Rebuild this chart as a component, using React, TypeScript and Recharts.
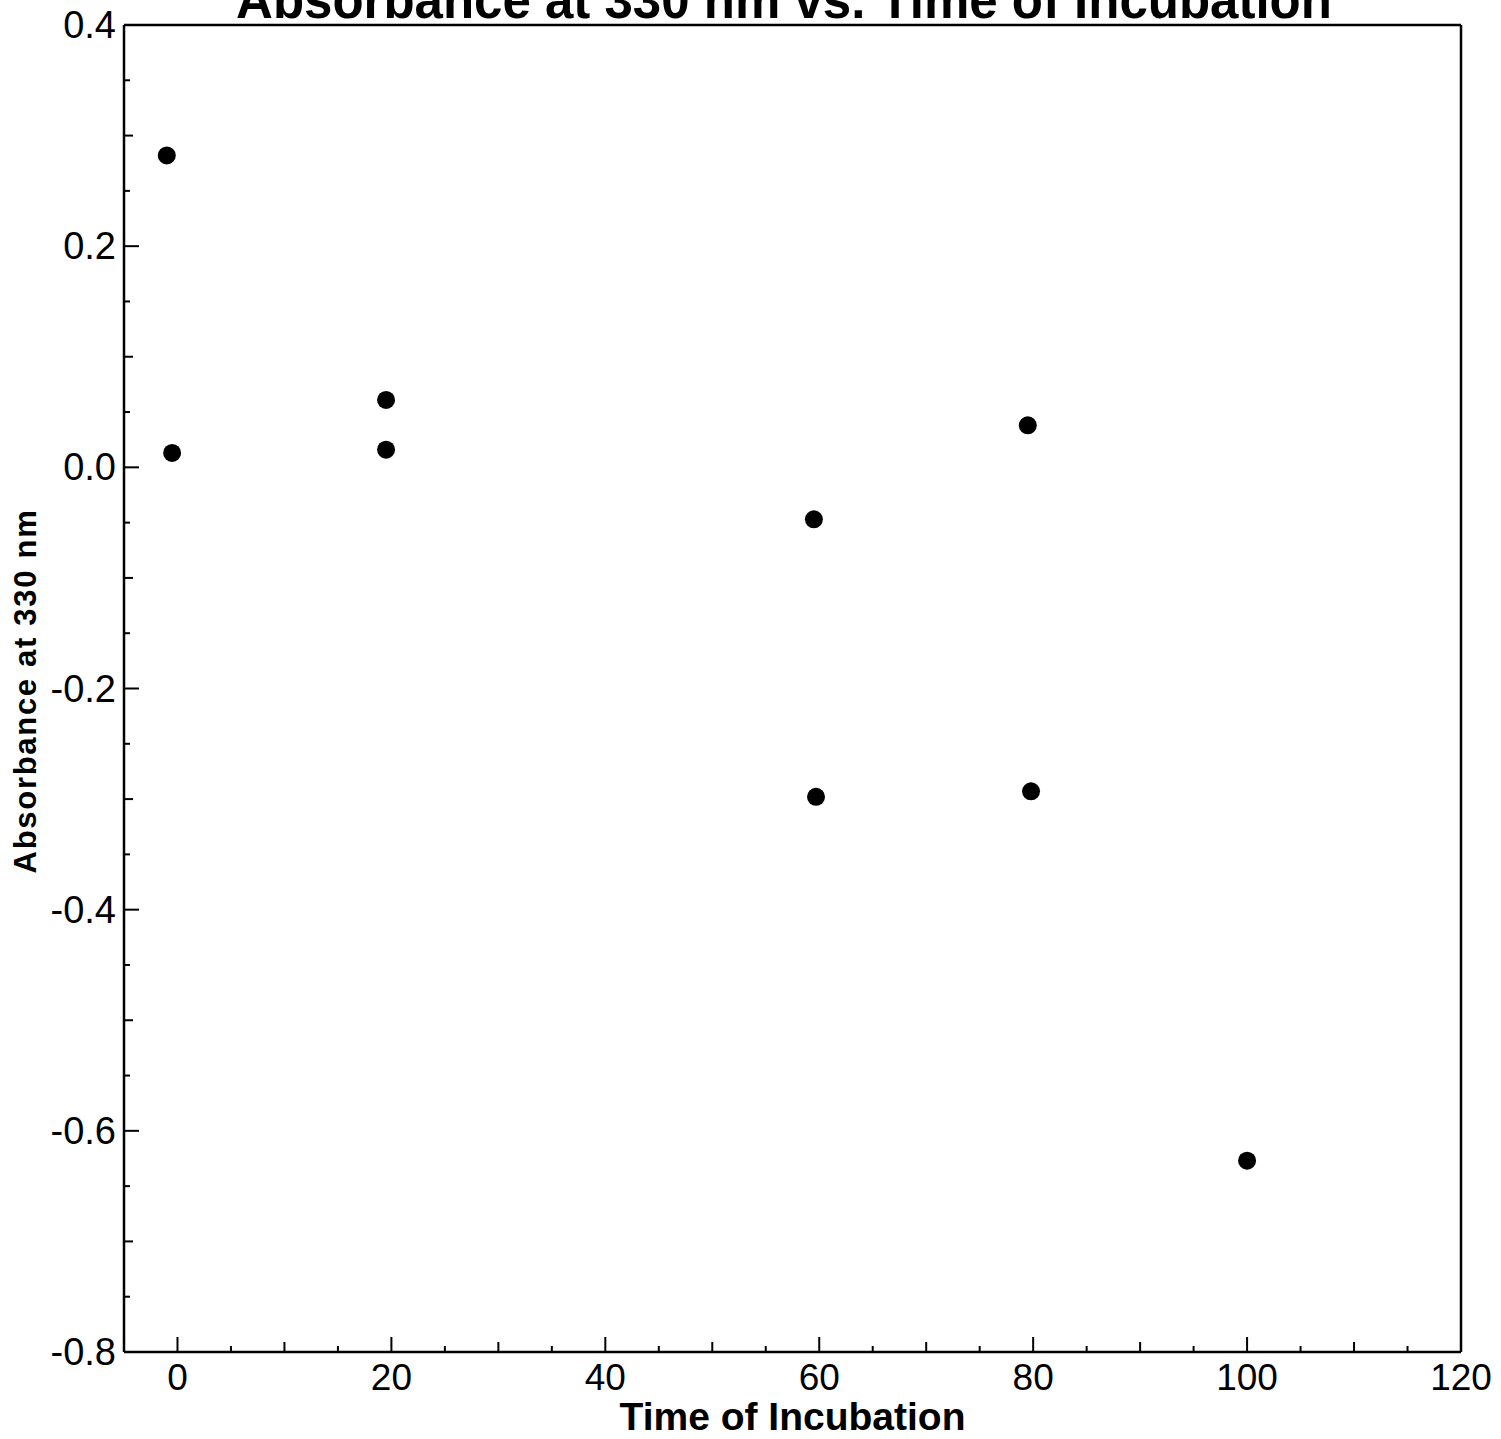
import * as React from "react"
import { Label, ReferenceLine, Scatter, ScatterChart, XAxis, YAxis } from "recharts"

// measured points (time of incubation, absorbance at 330 nm)
const times = [-1, -0.5, 19.5, 19.5, 59.5, 59.7, 79.5, 79.8, 100]
const absorbance = [0.282, 0.013, 0.061, 0.016, -0.047, -0.298, 0.038, -0.293, -0.627]

const xTicks = [0, 5, 10, 15, 20, 25, 30, 35, 40, 45, 50, 55, 60, 65, 70, 75, 80, 85, 90, 95, 100, 105, 110, 115, 120]
const yTicks = [
	-0.8, -0.75, -0.7, -0.65, -0.6, -0.55, -0.5, -0.45, -0.4, -0.35, -0.3, -0.25, -0.2, -0.15, -0.1, -0.05, 0, 0.05, 0.1,
	0.15, 0.2, 0.25, 0.3, 0.35, 0.4,
]

const data = times.map((t, i) => ({ t, a: absorbance[i] }))

const FONT = "'Liberation Sans', Arial, Helvetica, sans-serif"
const INK = "#000"

const isMultiple = (v: number, step: number) => Math.abs(v / step - Math.round(v / step)) < 1e-6

// eslint-disable-next-line @typescript-eslint/no-explicit-any
const XTick = (props: any) => {
	const { x, y, payload } = props
	const v = payload.value
	const len = isMultiple(v, 20) ? 15 : isMultiple(v, 10) ? 10 : 6
	return (
		<g>
			<line x1={x} x2={x} y1={y} y2={y - len} stroke={INK} strokeWidth={2} />
			{isMultiple(v, 20) && (
				<text x={x} y={y + 38} textAnchor="middle" fontFamily={FONT} fontSize={37} fill={INK}>
					{v}
				</text>
			)}
		</g>
	)
}

// eslint-disable-next-line @typescript-eslint/no-explicit-any
const YTick = (props: any) => {
	const { x, y, payload } = props
	const v = payload.value
	const len = isMultiple(v, 0.2) ? 15 : isMultiple(v, 0.1) ? 9 : 6
	return (
		<g>
			<line x1={x} x2={x + len} y1={y} y2={y} stroke={INK} strokeWidth={2} />
			{isMultiple(v, 0.2) && (
				<text x={x - 8} y={y + 13} textAnchor="end" fontFamily={FONT} fontSize={38} fill={INK}>
					{v.toFixed(1)}
				</text>
			)}
		</g>
	)
}

// eslint-disable-next-line @typescript-eslint/no-explicit-any
const Dot = (props: any) => <circle cx={props.cx} cy={props.cy} r={9} fill={INK} />

export default function App() {
	return (
		<div style={{ position: "absolute", left: 0, top: 0, background: "#fff" }}>
			<ScatterChart width={1501} height={1439} margin={{ top: 25, right: 40, bottom: 0, left: 0 }}>
				<XAxis
					type="number"
					dataKey="t"
					domain={[-5, 120]}
					ticks={xTicks}
					interval={0}
					allowDataOverflow
					height={87}
					tickSize={0}
					tickMargin={0}
					tickLine={false}
					tick={XTick}
					axisLine={{ stroke: INK, strokeWidth: 2.5 }}>
					<Label
						value="Time of Incubation"
						position="insideBottom"
						offset={9}
						fontFamily={FONT}
						fontSize={39}
						fontWeight="bold"
						fill={INK}
					/>
				</XAxis>
				<YAxis
					type="number"
					dataKey="a"
					domain={[-0.8, 0.4]}
					ticks={yTicks}
					interval={0}
					allowDataOverflow
					width={124}
					tickSize={0}
					tickMargin={0}
					tickLine={false}
					tick={YTick}
					axisLine={{ stroke: INK, strokeWidth: 2.5 }}>
					<Label
						content={() => (
							<text
								x={36}
								y={691}
								transform="rotate(-90, 36, 691)"
								textAnchor="middle"
								fontFamily={FONT}
								fontSize={31}
								fontWeight="bold"
								letterSpacing={1.7}
								fill={INK}>
								Absorbance at 330 nm
							</text>
						)}
					/>
				</YAxis>
				<ReferenceLine y={0.4} stroke={INK} strokeWidth={2.5} />
				<ReferenceLine x={120} stroke={INK} strokeWidth={2.5} />
				<Scatter data={data} shape={Dot} isAnimationActive={false} />
				<text x={784} y={18} textAnchor="middle" fontFamily={FONT} fontSize={51} fontWeight="bold" fill={INK}>
					Absorbance at 330 nm vs. Time of Incubation
				</text>
			</ScatterChart>
		</div>
	)
}
